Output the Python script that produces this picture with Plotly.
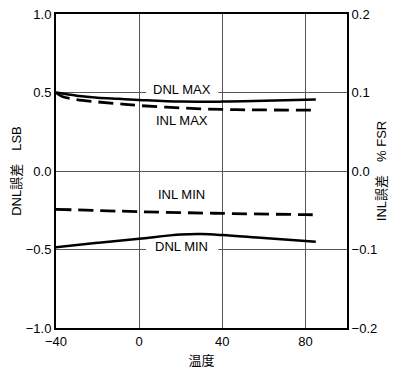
import plotly.graph_objects as go

# Temperature points (°C)
temp_dnl_max = [-40, -30, -20, -10, 0, 20, 40, 60, 85]
dnl_max = [0.5, 0.48, 0.467, 0.46, 0.453, 0.442, 0.442, 0.447, 0.455]  # LSB

temp_inl_max = [-40, -37, -30, -20, -10, 0, 20, 40, 60, 85]
inl_max = [0.1, 0.095, 0.091, 0.088, 0.0856, 0.0834, 0.0804, 0.0784, 0.0778, 0.0776]  # %FSR

temp_inl_min = [-40, 0, 40, 80, 87]
inl_min = [-0.0488, -0.0518, -0.054, -0.0556, -0.0558]  # %FSR

temp_dnl_min = [-40, -20, 0, 20, 30, 40, 60, 85]
dnl_min = [-0.485, -0.457, -0.431, -0.405, -0.402, -0.408, -0.427, -0.45]  # LSB

x_ticks = [-40, 0, 40, 80]
y_ticks = [-1.0, -0.5, 0.0, 0.5, 1.0]
y2_ticks = [-0.2, -0.1, 0.0, 0.1, 0.2]

labels = ["DNL MAX", "INL MAX", "INL MIN", "DNL MIN"]
label_x = [20.5, 20.5, 20.5, 20.5]
label_y = [0.5, 0.302, -0.171, -0.5]
label_gap = [True, False, False, True]

FONT = "Liberation Sans, Arial, sans-serif"
CJK = "Liberation Sans, Noto Sans CJK JP, sans-serif"

fig = go.Figure()
fig.add_trace(go.Scatter(x=temp_dnl_max, y=dnl_max, mode="lines",
                         line=dict(color="black", width=2.5, shape="spline"), yaxis="y"))
fig.add_trace(go.Scatter(x=temp_dnl_min, y=dnl_min, mode="lines",
                         line=dict(color="black", width=2.5, shape="spline"), yaxis="y"))
fig.add_trace(go.Scatter(x=temp_inl_max, y=inl_max, mode="lines",
                         line=dict(color="black", width=2.8, shape="spline", dash="15px,7px"), yaxis="y2"))
fig.add_trace(go.Scatter(x=temp_inl_min, y=inl_min, mode="lines",
                         line=dict(color="black", width=2.8, shape="spline", dash="15px,7px"), yaxis="y2"))

for t, lx, ly, gap in zip(labels, label_x, label_y, label_gap):
    fig.add_annotation(x=lx, y=ly, xref="x", yref="y", text=t, showarrow=False,
                       font=dict(size=13, color="black", family=FONT), yshift=3)
    if gap:
        # white patch hiding the gridline behind the label (drawn under the curves)
        fig.add_shape(type="rect", xref="x", yref="y", x0=lx - 17.2, x1=lx + 17.6,
                      y0=ly - 0.03, y1=ly + 0.05, fillcolor="white", line=dict(width=0),
                      layer="between")

fig.update_layout(
    width=395, height=372,
    margin=dict(l=56, r=48, t=14, b=44),
    plot_bgcolor="white", paper_bgcolor="white",
    showlegend=False,
    font=dict(family=FONT, size=13, color="black"),
    xaxis=dict(range=[-40, 100], tickvals=x_ticks, showgrid=True, gridcolor="#555555", gridwidth=1,
               zeroline=False, showline=True, linecolor="black", linewidth=2, mirror=True,
               automargin=False, ticks="",
               title=dict(text="温度", standoff=8, font=dict(family=CJK, size=13))),
    yaxis=dict(range=[-1, 1], tickvals=y_ticks, tickformat=".1f", showgrid=True, gridcolor="#555555",
               gridwidth=1, zeroline=False, showline=True, linecolor="black", linewidth=2,
               automargin=False, ticks="",
               title=dict(text="DNL誤差　LSB", standoff=1, font=dict(family=CJK, size=13))),
    yaxis2=dict(range=[-0.2, 0.2], tickvals=y2_ticks, tickformat=".1f", overlaying="y", side="right",
                showgrid=False, zeroline=False, showline=True, linecolor="black", linewidth=2,
                automargin=False, ticks="",
                title=dict(text="INL誤差　% FSR", standoff=1, font=dict(family=CJK, size=13))),
)

fig.write_html("out.html")
